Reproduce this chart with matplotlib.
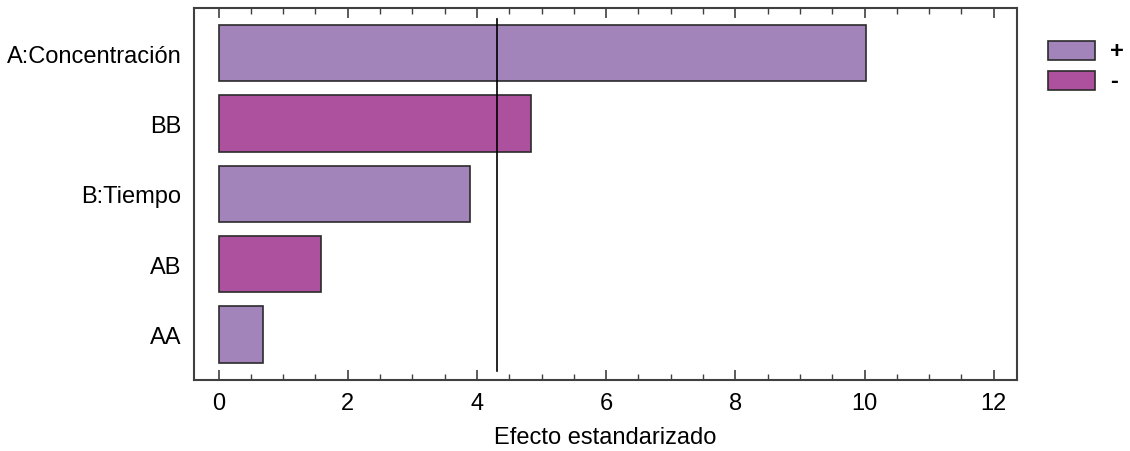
import matplotlib
matplotlib.use("Agg")
import matplotlib.pyplot as plt
from matplotlib.patches import Rectangle
from matplotlib.ticker import MultipleLocator

plt.rcParams['font.family'] = ['Liberation Sans', 'DejaVu Sans']

# Standardized effects (Pareto chart), sorted from largest to smallest
terms = ["A:Concentración", "BB", "B:Tiempo", "AB", "AA"]
effects = [10.03, 4.84, 3.89, 1.58, 0.69]
signs = ["+", "-", "+", "-", "+"]
t_critical = 4.303
legend_labels = ["+", "-"]

color_pos = "#A283BA"
color_neg = "#AD509E"
edge = "#2b2b2b"

W, H = 1130, 452
fig = plt.figure(figsize=(W / 100, H / 100), dpi=100)
ax = fig.add_axes([194 / W, 1 - 381 / H, (1017 - 194) / W, (381 - 9) / H])

ypos = list(range(len(terms)))
colors = [color_pos if s == "+" else color_neg for s in signs]
ax.barh(ypos, effects, height=0.8, color=colors, edgecolor=edge, linewidth=1.2)
ax.plot([t_critical, t_critical], [-0.48, 4.52], color="black", linewidth=1.2)

ax.set_ylim(4.645, -0.64)
ax.set_xlim(-0.38, 12.36)
ax.set_yticks(ypos)
ax.set_yticklabels(terms)
ax.xaxis.set_major_locator(MultipleLocator(2))
ax.xaxis.set_minor_locator(MultipleLocator(0.5))
ax.tick_params(axis='x', which='major', direction='in', length=7, width=1.2,
               top=True, labelsize=17, colors="#404040", labelcolor="black", pad=9)
ax.tick_params(axis='x', which='minor', direction='in', length=4, width=1.0,
               top=True, colors="#404040")
ax.tick_params(axis='y', length=0, labelsize=17, pad=9)
for sp in ax.spines.values():
    sp.set_color("#404040")
    sp.set_linewidth(1.5)

ax.set_xlabel("Efecto estandarizado", fontsize=17, labelpad=8)

# Sign legend drawn on the figure to the right of the axes
legend_colors = [color_pos, color_neg]
legend_tops = [42, 72]
for lab, col, top in zip(legend_labels, legend_colors, legend_tops):
    fig.patches.append(Rectangle((1048 / W, 1 - (top + 19) / H), 47 / W, 19 / H,
                                 transform=fig.transFigure, facecolor=col,
                                 edgecolor=edge, linewidth=1.2))
    fig.text(1110 / W, 1 - (top + 9.5) / H, lab, fontsize=17, fontweight="bold",
             va="center", ha="left")

fig.savefig("out.png", dpi=100)
